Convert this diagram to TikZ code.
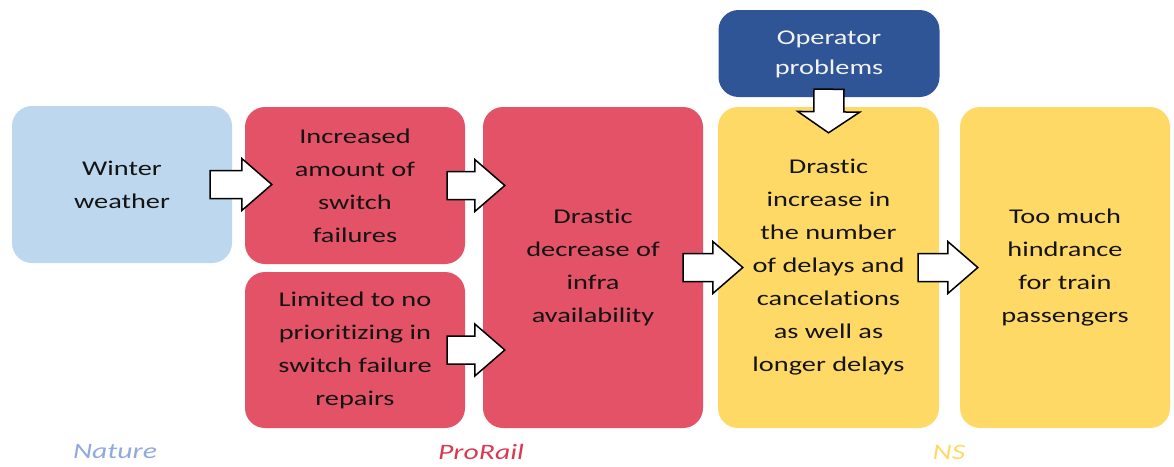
\documentclass[tikz,border=0pt]{standalone}
\usepackage{fontspec}
\setmainfont{Carlito}[FakeStretch=1.35, Ligatures=NoCommon]
\usepackage{xcolor}
\usetikzlibrary{calc}

\definecolor{natureblue}{HTML}{BDD7EE}
\definecolor{prorailred}{HTML}{E35266}
\definecolor{nsyellow}{HTML}{FFD966}
\definecolor{operblue}{HTML}{2F5597}
\definecolor{naturetext}{HTML}{8FAADC}
\definecolor{prorailtext}{HTML}{D93A52}

\tikzset{
  barshaft/.store in=\barshaft, barheadw/.store in=\barheadw, barheadl/.store in=\barheadl,
  barshaft=14pt, barheadw=26pt, barheadl=30pt,
  box/.style={rounded corners=20pt, align=center, text=black!92,
    font=\fontsize{21}{33}\selectfont, inner sep=0pt},
  group/.style={font=\fontsize{22}{26}\selectfont\itshape},
  blockarrow/.style={draw=black, line width=1.5pt, fill=white, line join=miter,
    to path={
      (\tikztostart) coordinate (bs) (\tikztotarget) coordinate (bt)
      ($(bt)!\barheadl!(bs)$) coordinate (bh)
      ($(bs)!\barshaft!90:(bt)$) -- ($(bh)!\barshaft!-90:(bs)$)
      -- ($(bh)!\barheadw!-90:(bs)$) -- (bt)
      -- ($(bh)!\barheadw!90:(bs)$) -- ($(bh)!\barshaft!90:(bs)$)
      -- ($(bs)!\barshaft!-90:(bt)$) -- cycle}}
}

\begin{document}
\begin{tikzpicture}[x=1pt, y=-1pt]
\useasboundingbox (0,0) rectangle (1174,466);

% boxes
\node[box, fill=natureblue, minimum width=220pt, minimum height=157pt] (weather) at (122,184.5) {Winter\\weather};
\node[box, fill=prorailred, minimum width=220pt, minimum height=157pt] (switch) at (355,185.5) {Increased\\amount of\\switch\\failures};
\node[box, fill=prorailred, minimum width=220pt, minimum height=156pt] (repairs) at (355,350) {Limited to no\\prioritizing in\\switch failure\\repairs};
\node[box, fill=prorailred, minimum width=220pt, minimum height=321pt] (infra) at (593,267.5) {Drastic\\decrease of\\infra\\availability};
\node[box, fill=nsyellow, minimum width=221pt, minimum height=321pt] (delays) at (828.5,267.5) {Drastic\\increase in\\the number\\of delays and\\cancelations\\as well as\\longer delays};
\node[box, fill=nsyellow, minimum width=210pt, minimum height=321pt] (hindrance) at (1065,267.5) {Too much\\hindrance\\for train\\passengers};
\node[box, fill=operblue, text=white!95!black, font=\fontsize{21}{30}\selectfont, minimum width=221pt, minimum height=87pt] (operator) at (829,53.5) {\raisebox{-3pt}{\begin{tabular}{@{}c@{}}Operator\\problems\end{tabular}}};

% arrows
\draw[blockarrow] ([xshift=-22pt]weather.east) to ([xshift=27pt]switch.west |- weather.east);
\draw[blockarrow] ([xshift=-18pt]switch.east) to ([xshift=22pt]infra.west |- switch.east);
\draw[blockarrow] ([xshift=-18pt]repairs.east) to ([xshift=22pt]infra.west |- repairs.east);
\draw[blockarrow] ([xshift=-20pt]infra.east) to ([xshift=25pt]delays.west);
\draw[blockarrow] ([xshift=-21pt]delays.east) to ([xshift=18pt]hindrance.west);
\draw[blockarrow, barshaft=15pt, barheadw=31pt, barheadl=21pt] ([yshift=8pt]operator.south) to ([yshift=-26pt]delays.north);

% groups
\node[group, text=naturetext] (nature) at (115,452) {Nature};
\node[group, text=prorailtext] (prorail) at (481,452) {ProRail};
\node[group, text=nsyellow] (ns) at (949,452) {NS};
\end{tikzpicture}
\end{document}
